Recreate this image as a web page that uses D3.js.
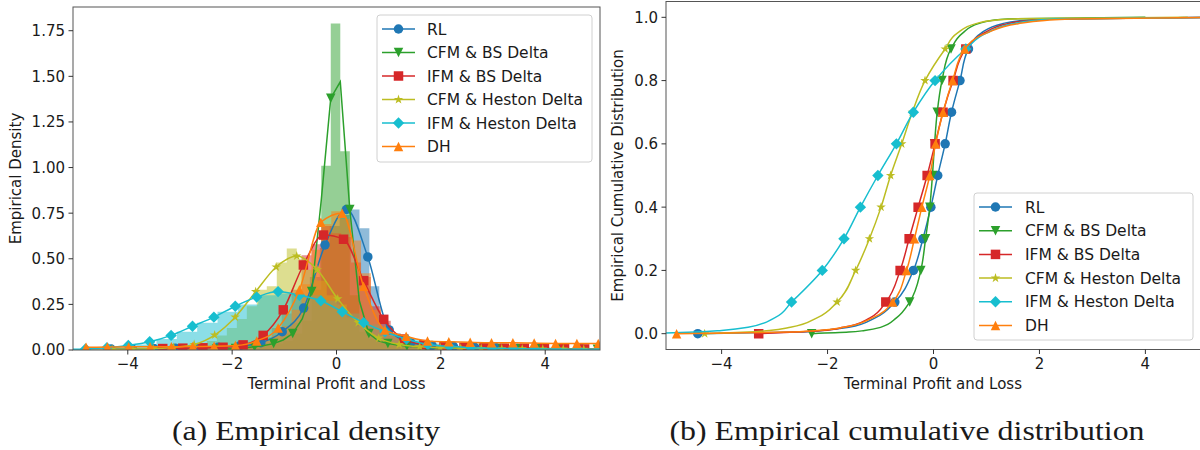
<!DOCTYPE html>
<html><head><meta charset="utf-8">
<script src="https://cdn.jsdelivr.net/npm/d3@7"></script>
<style>
body{margin:0;background:#fff;}
svg{display:block;}
text{font-family:"DejaVu Sans",sans-serif;fill:#1a1a1a;}
</style>
</head><body>
<svg id="c" width="1200" height="450"></svg>
<script>
// ---------------- DATA ----------------
const seriesNames = ["RL","CFM & BS Delta","IFM & BS Delta","CFM & Heston Delta","IFM & Heston Delta","DH"];
const xTicks = [-4,-2,0,2,4];
const yTicksDensity = [0,0.25,0.5,0.75,1.0,1.25,1.5,1.75];
const yTicksCdf = [0,0.2,0.4,0.6,0.8,1.0];

// histograms (bin start, bin width, densities)
const histStart = [-4.31,-2.30,-3.33,-4.40,-5.40,-4.85];
const histWidth = [0.19,0.1825,0.19,0.1915,0.39,0.19];
const histRL = [0.005,0,0.005,0.005,0.005,0.01,0.01,0.01,0.01,0.015,0.015,0.02,0.02,0.025,0.03,0.04,0.06,0.09,0.15,0.25,0.40,0.56,0.68,0.74,0.77,0.667,0.35,0.15,0.08,0.05,0.035,0.025,0.02,0.02,0.015,0.015,0.01,0.015,0.01,0.01,0.01,0.01,0.005,0.01,0.005,0.01,0.005,0.005,0.005];
const histCFMBS = [0.005,0.005,0.01,0.01,0.015,0.025,0.035,0.05,0.09,0.16,0.33,1.01,1.79,1.09,0.30,0.10,0.06,0.04,0.03,0.025,0.02,0.015,0.015,0.01,0.01,0.01,0.01,0.005,0.01,0.005,0.005,0.01,0.005,0.005,0.005,0.005,0.005,0.005,0.005,0.005];
const histIFMBS = [0.01,0.005,0.01,0.01,0.015,0.015,0.02,0.02,0.03,0.04,0.07,0.12,0.20,0.33,0.52,0.58,0.68,0.64,0.62,0.48,0.40,0.24,0.16,0.09,0.06,0.04,0.03,0.025,0.02,0.015,0.02,0.01,0.015,0.01,0.01,0.01,0.005,0.01,0.005,0.005,0.01,0.005,0.005,0.005];
const histCFMHeston = [0.005,0.005,0,0.005,0.01,0.01,0.01,0.015,0.02,0.035,0.05,0.08,0.12,0.17,0.24,0.33,0.35,0.48,0.557,0.50,0.44,0.38,0.30,0.25,0.18,0.13,0.08,0.05,0.035,0.025,0.02,0.015,0.01,0.01,0.01,0.005,0.01,0.005,0.005,0.005,0.005,0.005,0.005,0,0.005,0,0.005,0,0.005];
const histIFMHeston = [0.003,0.005,0.01,0.015,0.03,0.06,0.10,0.15,0.21,0.25,0.30,0.31,0.30,0.27,0.20,0.14,0.09,0.06,0.035,0.02,0.015,0.01,0.01,0.005,0.005,0.005,0.005];
const histDH = [0.005,0.005,0.005,0.005,0.01,0.005,0.01,0.01,0.01,0.01,0.015,0.01,0.015,0.015,0.02,0.02,0.025,0.035,0.05,0.08,0.13,0.22,0.36,0.55,0.69,0.76,0.72,0.60,0.42,0.22,0.12,0.08,0.06,0.045,0.035,0.03,0.025,0.02,0.02,0.015,0.015,0.015,0.01,0.01,0.01,0.01,0.01,0.005,0.01,0.005,0.005,0.005];

// density curves (grid start, grid step, values, marker every n points)
const kdeStart = [-4.32,-2.30,-3.33,-4.30,-5.22,-4.80];
const kdeStep = [0.41,0.1825,0.385,0.393,0.41,0.409];
const kdeMarkEvery = [1,2,1,1,1,1];
const kdeRL = [0.005,0.005,0.008,0.01,0.012,0.015,0.022,0.04,0.10,0.23,0.576,0.77,0.51,0.11,0.04,0.025,0.02,0.015,0.012,0.01,0.008,0.007,0.006,0.005];
const kdeCFMBS = [0.005,0.006,0.008,0.012,0.018,0.025,0.035,0.055,0.09,0.17,0.32,0.82,1.38,1.47,0.77,0.27,0.09,0.05,0.035,0.028,0.022,0.018,0.015,0.013,0.012,0.011,0.01,0.01,0.009,0.008,0.008,0.007,0.007,0.006,0.006,0.005,0.005,0.005,0.004,0.004,0.004];
const kdeIFMBS = [0.008,0.01,0.012,0.015,0.028,0.08,0.22,0.466,0.63,0.607,0.38,0.168,0.06,0.03,0.02,0.015,0.012,0.01,0.01,0.008,0.007,0.006,0.005];
const kdeCFMHeston = [0.004,0.005,0.008,0.014,0.03,0.082,0.18,0.32,0.455,0.515,0.44,0.28,0.15,0.065,0.03,0.018,0.012,0.01,0.008,0.007,0.006,0.005,0.005,0.004,0.004];
const kdeIFMHeston = [0.003,0.006,0.012,0.025,0.045,0.08,0.13,0.18,0.24,0.29,0.32,0.30,0.27,0.21,0.15,0.10,0.06,0.03,0.02,0.013,0.01,0.008,0.006,0.005,0.004,0.004];
const kdeDH = [0.015,0.016,0.017,0.018,0.018,0.019,0.02,0.024,0.05,0.12,0.33,0.70,0.75,0.35,0.11,0.075,0.05,0.045,0.042,0.04,0.04,0.038,0.036,0.035,0.035];

// empirical CDF: quantiles (x) at probability levels
const cdfLevels = [0,0.005,0.01,0.02,0.05,0.1,0.2,0.3,0.4,0.5,0.6,0.7,0.8,0.9,0.95,0.98,0.99,0.995,1];
const cdfMarkerLevels = [0,0.1,0.2,0.3,0.4,0.5,0.6,0.7,0.8,0.9];
const cdfRL = [-4.45,-2.6,-2.1,-1.6,-1.1,-0.73,-0.38,-0.20,-0.05,0.08,0.22,0.34,0.50,0.66,0.9,1.3,1.7,2.2,5.5];
const cdfCFMBS = [-2.30,-1.6,-1.3,-1.0,-0.7,-0.45,-0.24,-0.15,-0.07,-0.02,0.02,0.07,0.16,0.33,0.55,0.85,1.1,1.4,4.0];
const cdfIFMBS = [-3.30,-2.6,-2.1,-1.7,-1.2,-0.90,-0.63,-0.46,-0.29,-0.12,0.03,0.18,0.37,0.61,0.95,1.4,1.8,2.3,5.5];
const cdfCFMHeston = [-4.32,-3.5,-3.1,-2.7,-2.2,-1.82,-1.47,-1.21,-0.99,-0.81,-0.60,-0.40,-0.16,0.22,0.45,0.8,1.1,1.5,4.8];
const cdfIFMHeston = [-5.6,-4.5,-4.0,-3.5,-3.0,-2.68,-2.10,-1.69,-1.38,-1.05,-0.70,-0.38,0.03,0.61,1.0,1.5,1.9,2.3,5.5];
const cdfDH = [-4.85,-2.8,-2.2,-1.7,-1.15,-0.77,-0.51,-0.36,-0.22,-0.07,0.04,0.18,0.36,0.59,1.0,1.6,2.1,2.6,5.5];

// ---------------- STYLE ----------------
const colors = ["#1f77b4","#2ca02c","#d62728","#bcbd22","#17becf","#ff7f0e"];
const markers = ["o","v","s","*","D","^"];
const kdeCurves = [d3.curveMonotoneX,d3.curveLinear,d3.curveMonotoneX,d3.curveMonotoneX,d3.curveMonotoneX,d3.curveMonotoneX];
const hists = [histRL,histCFMBS,histIFMBS,histCFMHeston,histIFMHeston,histDH];
const kdes = [kdeRL,kdeCFMBS,kdeIFMBS,kdeCFMHeston,kdeIFMHeston,kdeDH];
const cdfs = [cdfRL,cdfCFMBS,cdfIFMBS,cdfCFMHeston,cdfIFMHeston,cdfDH];
const MS = 9.5;

function markerPath(t, m){
  const r = m/2;
  if(t==="o"){ const p=d3.path(); p.arc(0,0,r,0,2*Math.PI); p.closePath(); return p.toString(); }
  if(t==="s") return `M${-r},${-r}h${m}v${m}h${-m}Z`;
  if(t==="^") return `M0,${-r}L${r},${r}L${-r},${r}Z`;
  if(t==="v") return `M0,${r}L${r},${-r}L${-r},${-r}Z`;
  if(t==="D"){ const d=m*0.6; return `M0,${-d}L${d},0L0,${d}L${-d},0Z`; }
  if(t==="*"){ const R=r*1.05, ri=R*0.381966; let s=""; for(let i=0;i<10;i++){ const a=-Math.PI/2+i*Math.PI/5, rr=i%2?ri:R; s+=(i?"L":"M")+(rr*Math.cos(a)).toFixed(2)+","+(rr*Math.sin(a)).toFixed(2);} return s+"Z"; }
}

const svg = d3.select("#c");
const fmtMinus = d => (d<0?"\u2212":"")+Math.abs(d);

function drawAxes(g, x, y, box, yTicks, yFmt, yLabel, yLabelX){
  const [x0,x1,y0,y1] = box;
  // frame
  g.append("rect").attr("x",x0).attr("y",y0).attr("width",x1-x0).attr("height",y1-y0)
    .attr("fill","none").attr("stroke","#555").attr("stroke-width",1);
  // x ticks
  xTicks.forEach(t=>{
    const px = x(t);
    g.append("line").attr("x1",px).attr("x2",px).attr("y1",y1).attr("y2",y1+4.5).attr("stroke","#333");
    g.append("text").attr("x",px).attr("y",y1+19).attr("text-anchor","middle").attr("font-size",15).text(fmtMinus(t));
  });
  yTicks.forEach(t=>{
    const py = y(t);
    g.append("line").attr("x1",x0-4.5).attr("x2",x0).attr("y1",py).attr("y2",py).attr("stroke","#333");
    g.append("text").attr("x",x0-8).attr("y",py).attr("dy","0.36em").attr("text-anchor","end").attr("font-size",15).text(yFmt(t));
  });
  g.append("text").attr("x",(x0+Math.min(x1,1200))/2).attr("y",y1+39).attr("text-anchor","middle").attr("font-size",15).text("Terminal Profit and Loss");
  g.append("text").attr("transform",`translate(${yLabelX},${(y0+y1)/2}) rotate(-90)`).attr("text-anchor","middle").attr("font-size",15).text(yLabel);
}

function drawLegend(g, bx, by, bw, bh, ey0, estep, hx1, hx2, tx){
  g.append("rect").attr("x",bx).attr("y",by).attr("width",bw).attr("height",bh).attr("rx",3)
    .attr("fill","#fff").attr("fill-opacity",0.8).attr("stroke","#d0d0d0");
  seriesNames.forEach((n,i)=>{
    const yy = ey0 + estep*i;
    g.append("line").attr("x1",hx1).attr("x2",hx2).attr("y1",yy).attr("y2",yy).attr("stroke",colors[i]).attr("stroke-width",1.5);
    g.append("path").attr("d",markerPath(markers[i],MS)).attr("transform",`translate(${(hx1+hx2)/2},${yy})`).attr("fill",colors[i]);
    g.append("text").attr("x",tx).attr("y",yy).attr("dy","0.36em").attr("font-size",15.5).text(n);
  });
}

// ---------------- LEFT: density ----------------
const L = {x0:73,x1:600,y0:7,y1:350};
const xL = d3.scaleLinear().domain([-5.05,5.05]).range([L.x0,L.x1]);
const yL = d3.scaleLinear().domain([0,1.88]).range([L.y1,L.y0]);
const gL = svg.append("g");
svg.append("clipPath").attr("id","clipL").append("rect").attr("x",L.x0).attr("y",L.y0).attr("width",L.x1-L.x0).attr("height",L.y1-L.y0);
const plotL = gL.append("g").attr("clip-path","url(#clipL)");

const histArea = d3.area().curve(d3.curveStepAfter).x(d=>xL(d[0])).y0(yL(0)).y1(d=>yL(d[1]));
hists.forEach((h,i)=>{
  const pts = h.map((v,k)=>[histStart[i]+k*histWidth[i], v]);
  pts.push([histStart[i]+h.length*histWidth[i], h[h.length-1]]);
  plotL.append("path").attr("d",histArea(pts)).attr("fill",colors[i]).attr("fill-opacity",0.5);
});
kdes.forEach((k,i)=>{
  const pts = k.map((v,j)=>[kdeStart[i]+j*kdeStep[i], v]);
  const line = d3.line().curve(kdeCurves[i]).x(d=>xL(d[0])).y(d=>yL(d[1]));
  plotL.append("path").attr("d",line(pts)).attr("fill","none").attr("stroke",colors[i]).attr("stroke-width",1.5);
  plotL.selectAll(null).data(pts.filter((d,j)=>j%kdeMarkEvery[i]===0)).enter().append("path")
    .attr("d",markerPath(markers[i],MS)).attr("transform",d=>`translate(${xL(d[0])},${yL(d[1])})`).attr("fill",colors[i]);
});
drawAxes(gL, xL, yL, [L.x0,L.x1,L.y0,L.y1], yTicksDensity, d3.format(".2f"), "Empirical Density", 21);
drawLegend(gL, 377, 15, 215, 147, 29, 23.5, 382, 415, 427);

// ---------------- RIGHT: CDF ----------------
const R = {x0:666,x1:1201,y0:1.5,y1:349.5};
const xR = d3.scaleLinear().domain([-5.05,5.05]).range([R.x0,R.x1]);
const yR = d3.scaleLinear().domain([-0.05,1.05]).range([R.y1,R.y0]);
const gR = svg.append("g");
svg.append("clipPath").attr("id","clipR").append("rect").attr("x",R.x0).attr("y",R.y0).attr("width",R.x1-R.x0).attr("height",R.y1-R.y0);
const plotR = gR.append("g").attr("clip-path","url(#clipR)");
cdfs.forEach((c,i)=>{
  const pts = c.map((v,j)=>[v, cdfLevels[j]]);
  const line = d3.line().curve(d3.curveMonotoneY).x(d=>xR(d[0])).y(d=>yR(d[1]));
  plotR.append("path").attr("d",line(pts)).attr("fill","none").attr("stroke",colors[i]).attr("stroke-width",1.5);
  plotR.selectAll(null).data(pts.filter(d=>cdfMarkerLevels.includes(d[1]))).enter().append("path")
    .attr("d",markerPath(markers[i],MS)).attr("transform",d=>`translate(${xR(d[0])},${yR(d[1])})`).attr("fill",colors[i]);
});
drawAxes(gR, xR, yR, [R.x0,R.x1,R.y0,R.y1], yTicksCdf, d3.format(".1f"), "Empirical Cumulative Distribution", 623);
drawLegend(gR, 974, 193, 219, 147, 207, 23.7, 979, 1012, 1025);

// ---------------- captions ----------------
svg.append("text").attr("x",306).attr("y",440).attr("text-anchor","middle")
  .style("font-family","'Liberation Serif',serif").attr("font-size",28)
  .attr("textLength",268).attr("lengthAdjust","spacingAndGlyphs").text("(a) Empirical density");
svg.append("text").attr("x",907).attr("y",440).attr("text-anchor","middle")
  .style("font-family","'Liberation Serif',serif").attr("font-size",28)
  .attr("textLength",475).attr("lengthAdjust","spacingAndGlyphs").text("(b) Empirical cumulative distribution");
</script>
</body></html>
